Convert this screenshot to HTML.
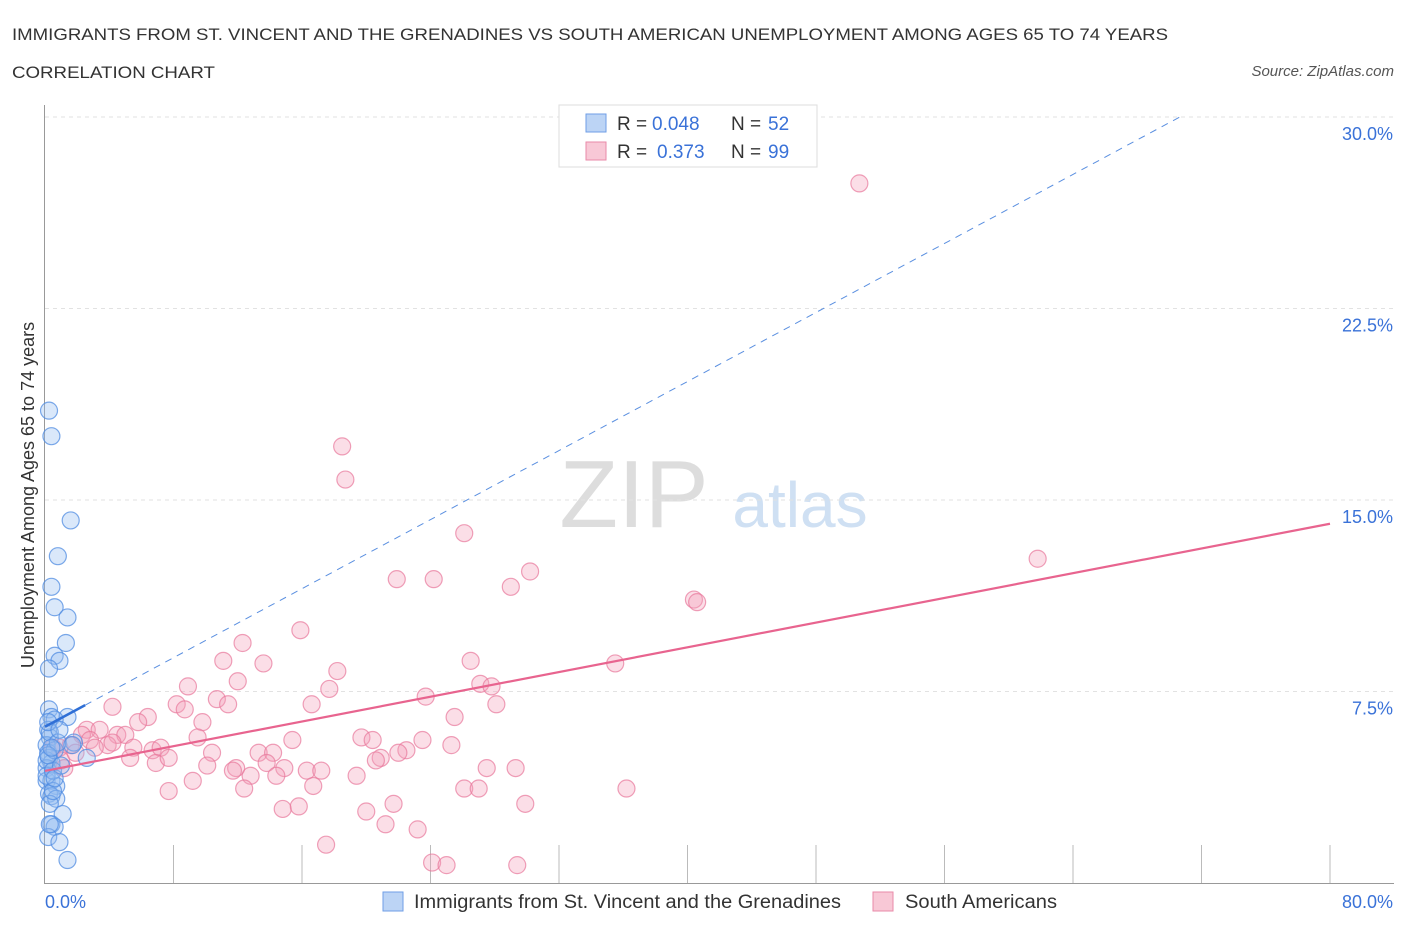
<!DOCTYPE html>
<html><head><meta charset="utf-8"><style>
body{margin:0;background:#fff;font-family:"Liberation Sans",sans-serif;}
svg text{font-family:"Liberation Sans",sans-serif;}
</style></head><body>
<svg id="c" width="1406" height="930" xmlns="http://www.w3.org/2000/svg">
<text x="12" y="40" font-size="17" fill="#333" textLength="1156" lengthAdjust="spacingAndGlyphs">IMMIGRANTS FROM ST. VINCENT AND THE GRENADINES VS SOUTH AMERICAN UNEMPLOYMENT AMONG AGES 65 TO 74 YEARS</text>
<text x="12" y="78" font-size="17" fill="#333" textLength="203" lengthAdjust="spacingAndGlyphs">CORRELATION CHART</text>
<text x="1394" y="76" font-size="15" fill="#555" font-style="italic" text-anchor="end">Source: ZipAtlas.com</text>
<text x="634" y="527" font-size="96" fill="#ddd" font-family="Liberation Serif" text-anchor="middle">ZIP</text>
<text x="800" y="527" font-size="64" fill="#cfe0f3" text-anchor="middle">atlas</text>
<text transform="translate(34,495) rotate(-90)" font-size="18" fill="#333" text-anchor="middle">Unemployment Among Ages 65 to 74 years</text>
<g id="grid"></g><g id="pts"></g><g id="lines"></g>
<g>
<rect x="559" y="105" width="258" height="62" fill="#fff" stroke="#ddd"/>
<rect x="586" y="114" width="20" height="18" fill="#bcd4f5" stroke="#6f9ee6"/>
<text x="617" y="130" font-size="19" fill="#333">R =</text>
<text x="652" y="130" font-size="19" fill="#3a72d8">0.048</text>
<text x="731" y="130" font-size="19" fill="#333">N =</text>
<text x="768" y="130" font-size="19" fill="#3a72d8">52</text>
<rect x="586" y="142" width="20" height="18" fill="#f8c8d6" stroke="#e98aa8"/>
<text x="617" y="158" font-size="19" fill="#333">R =</text>
<text x="657" y="158" font-size="19" fill="#3a72d8">0.373</text>
<text x="731" y="158" font-size="19" fill="#333">N =</text>
<text x="768" y="158" font-size="19" fill="#3a72d8">99</text>
</g>
<g>
<rect x="383" y="892" width="20" height="19" fill="#bcd4f5" stroke="#6f9ee6"/>
<text x="414" y="908" font-size="19" fill="#333" textLength="427" lengthAdjust="spacingAndGlyphs">Immigrants from St. Vincent and the Grenadines</text>
<rect x="873" y="892" width="20" height="19" fill="#f8c8d6" stroke="#e98aa8"/>
<text x="905" y="908" font-size="19" fill="#333" textLength="152" lengthAdjust="spacingAndGlyphs">South Americans</text>
</g>
</svg>
<script>
const yTicks=[7.5,15,22.5,30];
const yTickLabels=["7.5%","15.0%","22.5%","30.0%"];
const xTickLabels=["0.0%","80.0%"];
const blueX=[0.25,0.4,1.6,0.8,0.4,0.6,1.4,1.3,0.6,0.9,0.25,0.25,0.4,1.4,0.6,0.2,0.3,0.1,0.2,2.6,0.25,0.4,0.1,0.1,0.4,0.7,0.25,0.4,0.7,0.3,1.1,0.4,0.6,0.2,0.9,1.4,0.3,0.1,0.6,0.1,0.8,1.8,1.7,0.2,0.5,0.3,0.5,0.2,0.9,0.4,0.6,1.0];
const blueY=[18.5,17.5,14.2,12.8,11.6,10.8,10.4,9.4,8.9,8.7,8.4,6.8,6.5,6.5,6.4,6.0,5.7,5.4,5.1,4.9,4.9,4.7,4.5,4.0,4.0,3.8,3.5,3.4,3.3,3.1,2.7,2.3,2.2,1.8,1.6,0.9,5.9,4.8,5.2,4.2,5.5,5.5,5.4,6.3,4.4,2.3,3.6,5.0,6.0,5.3,4.1,4.6];
const pinkX=[50.7,18.5,18.7,26.1,61.8,30.2,21.9,24.2,29.0,40.4,40.6,12.3,15.9,11.1,13.6,26.5,35.5,18.2,8.9,12.0,17.7,23.7,27.1,27.8,10.7,11.4,8.2,8.7,16.6,28.1,4.2,6.4,5.8,9.8,25.5,2.6,3.4,4.5,5.0,2.3,15.4,19.7,20.4,23.5,25.3,0.5,0.9,1.6,3.9,5.5,6.7,7.2,9.5,10.4,13.3,14.2,22.5,22.0,20.9,20.6,5.3,6.9,7.7,10.1,11.9,13.8,14.9,16.3,17.2,11.7,19.4,27.5,29.3,12.8,14.4,9.2,12.4,7.7,16.7,26.1,27.0,36.2,1.0,1.2,2.8,14.8,15.8,20.0,21.7,29.9,21.2,23.2,17.5,24.1,25.0,29.4,3.1,1.9,4.2];
const pinkY=[27.4,17.1,15.8,13.7,12.7,12.2,11.9,11.9,11.6,11.1,11.0,9.4,9.9,8.7,8.6,8.7,8.6,8.3,7.7,7.9,7.6,7.3,7.8,7.7,7.2,7.0,7.0,6.8,7.0,7.0,6.9,6.5,6.3,6.3,6.5,6.0,6.0,5.8,5.8,5.8,5.6,5.7,5.6,5.6,5.4,5.3,5.3,5.4,5.4,5.3,5.2,5.3,5.7,5.1,5.1,5.1,5.2,5.1,4.9,4.8,4.9,4.7,4.9,4.6,4.5,4.7,4.5,4.4,4.4,4.4,4.2,4.5,4.5,4.2,4.2,4.0,3.7,3.6,3.8,3.7,3.7,3.7,4.8,4.5,5.6,2.9,3.0,2.8,3.1,3.1,2.3,2.1,1.5,0.8,0.7,0.7,5.3,5.1,5.5];
const blueTrend=[6.12,0.338];
const pinkTrend=[4.39,0.121];
const NS="http://www.w3.org/2000/svg";
const X=v=>45+v/80*1285, Y=v=>883-v/7.5*191.5;
function mk(t,a,p){const e=document.createElementNS(NS,t);for(const k in a)e.setAttribute(k,a[k]);p.appendChild(e);return e;}
const g=document.getElementById('grid');
yTicks.forEach((t,i)=>{
 const l=mk('line',{x1:45,x2:1394,y1:Y(t),y2:Y(t),stroke:'#e2e2e2','stroke-dasharray':'4,4'},g);
 
 
 const tx=mk('text',{x:1393,y:Y(t)+23,'font-size':18,fill:'#3a72d8','text-anchor':'end'},g);
 tx.textContent=yTickLabels[i];
 
 
});
const ax=mk('line',{x1:44.5,x2:44.5,y1:105,y2:883,stroke:'#999'},g);


const bx=mk('line',{x1:44,x2:1394,y1:883.5,y2:883.5,stroke:'#999'},g);


for(let i=1;i<=10;i++){const t=mk('line',{x1:X(i*8),x2:X(i*8),y1:845,y2:883,stroke:'#bbb'},g);
 
 }
[[0,'start',45],[80,'end',1393]].forEach((d,i)=>{const t=mk('text',{x:d[2],y:908,'font-size':18,fill:'#3a72d8','text-anchor':d[1]},g);t.textContent=xTickLabels[i];
 
 });
const p=document.getElementById('pts');
pinkX.forEach((x,i)=>{const c=mk('circle',{cx:X(x),cy:Y(pinkY[i]),r:8.5,fill:'rgba(244,160,185,0.35)',stroke:'rgba(232,120,155,0.7)','stroke-width':1.2},p);
 
 });
blueX.forEach((x,i)=>{const c=mk('circle',{cx:X(x),cy:Y(blueY[i]),r:8.5,fill:'rgba(150,190,240,0.35)',stroke:'rgba(80,140,225,0.75)','stroke-width':1.2},p);
 
 });
const L=document.getElementById('lines');
const xEnd=(30-blueTrend[0])/blueTrend[1];
const bd=mk('line',{x1:X(2.5),y1:Y(blueTrend[0]+2.5*blueTrend[1]),x2:X(xEnd),y2:Y(30),stroke:'#5a8fe0','stroke-width':1,'stroke-dasharray':'7,6'},L);


const bs=mk('line',{x1:X(0),y1:Y(blueTrend[0]),x2:X(2.5),y2:Y(blueTrend[0]+2.5*blueTrend[1]),stroke:'#2f6fd6','stroke-width':2.5},L);


const ps=mk('line',{x1:X(0),y1:Y(pinkTrend[0]),x2:X(80),y2:Y(pinkTrend[0]+80*pinkTrend[1]),stroke:'#e8648f','stroke-width':2.2},L);


</script>
</body></html>
